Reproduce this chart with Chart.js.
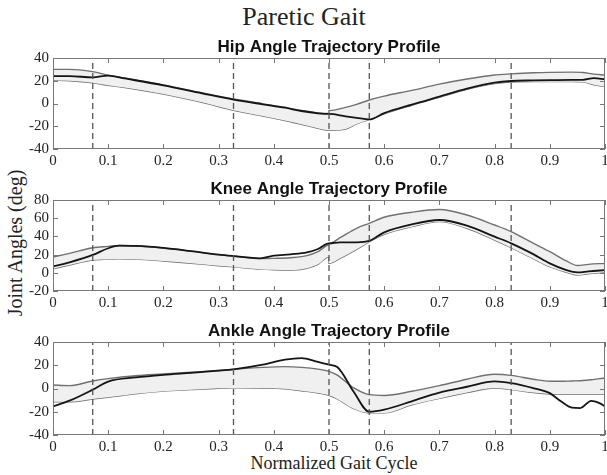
<!DOCTYPE html>
<html>
<head>
<meta charset="utf-8">
<script src="https://cdn.jsdelivr.net/npm/chart.js@4.4.0/dist/chart.umd.min.js"></script>
<style>
  body { margin: 0; background: #fff; }
  #wrap { position: relative; width: 607px; height: 475px; overflow: hidden; font-family: "Liberation Serif", serif; color: #222; }
  canvas { position: absolute; left: 0; }
  .lbl { position: absolute; white-space: nowrap; line-height: 1; }
</style>
</head>
<body>
<div id="wrap">
  <div class="lbl" style="left:304px; top:17px; transform:translate(-50%,-50%); font-size:26px;">Paretic Gait</div>
  <div class="lbl" style="left:15px; top:243px; transform:translate(-50%,-50%) rotate(-90deg); font-size:20px;">Joint Angles (deg)</div>
  <div class="lbl" style="left:334px; top:463px; transform:translate(-50%,-50%); font-size:18px;">Normalized Gait Cycle</div>
  <canvas id="hip" width="607" height="132" style="top:39px"></canvas>
  <canvas id="knee" width="607" height="132" style="top:181px"></canvas>
  <canvas id="ankle" width="607" height="134" style="top:323px"></canvas>
</div>
<script>
// eje x común
const xTicks = [0, 0.1, 0.2, 0.3, 0.4, 0.5, 0.6, 0.7, 0.8, 0.9, 1];
const xTickLabels = ['0', '0.1', '0.2', '0.3', '0.4', '0.5', '0.6', '0.7', '0.8', '0.9', '1'];
// eventos de la marcha (líneas discontinuas)
const gaitEvents = [0.072, 0.327, 0.5, 0.573, 0.83];

// Cadera
const hipX = [0, 0.03, 0.072, 0.1, 0.13, 0.2, 0.27, 0.327, 0.38, 0.42, 0.45, 0.48, 0.5, 0.5, 0.53, 0.55, 0.573, 0.6, 0.65, 0.7, 0.75, 0.8, 0.83, 0.87, 0.9, 0.94, 0.96, 0.98, 1];
const hipUpper = [30, 30, 28, 25, 22.4, 16.4, 9.4, 3.9, -0.3, -3.3, -6.2, -8.2, -8.8, -6.3, -3.4, -0.7, 3.1, 6.5, 11.5, 17, 21.5, 25, 26, 27, 27.4, 27.6, 27.3, 25.8, 25];
const hipLower = [20.5, 20, 18.2, 16, 14, 8.3, 1, -6, -11, -15, -18.3, -21.8, -23.6, -23.6, -22.4, -18, -14, -9, -1.5, 5.5, 12.5, 17.5, 18.8, 19.2, 19.2, 19.2, 19, 16.5, 14.8];
const hipSubject = [24, 24, 23, 24.5, 22, 16, 9, 3.5, -0.7, -3.7, -6.6, -8.6, -9.2, -9.2, -11.3, -12.6, -14, -8.5, -1, 6, 13, 18.3, 19.8, 20.3, 20.6, 20.8, 20.8, 22.3, 21.3];
const hipTicks = [-40, -20, 0, 20, 40];

// Rodilla
const kneeX = [0, 0.03, 0.072, 0.1, 0.12, 0.15, 0.2, 0.25, 0.3, 0.327, 0.375, 0.4, 0.43, 0.46, 0.48, 0.5, 0.5, 0.52, 0.55, 0.573, 0.6, 0.65, 0.7, 0.75, 0.8, 0.83, 0.87, 0.9, 0.93, 0.95, 0.97, 1];
const kneeUpper = [17.5, 21.4, 27.5, 29, 30, 29.5, 27.3, 23.8, 20, 18.4, 15.6, 15.9, 16.6, 18.8, 23.2, 30.5, 32, 38.6, 48.9, 54.4, 61, 66.5, 69.5, 63.5, 52.5, 45.2, 32.5, 23.2, 13, 8, 9.3, 10.4];
const kneeLower = [4.5, 8.6, 14, 15, 15.3, 15, 13, 10.5, 7.8, 6.5, 4, 3.3, 3, 5, 9.3, 17.7, 10.4, 15.9, 25.8, 34.2, 42.3, 50.7, 56.2, 48.9, 36, 27.6, 15.5, 6.7, 0.5, -2.4, -1, 0.5];
const kneeSubject = [7, 11.5, 19.6, 27, 29.8, 29.5, 27.3, 23.8, 20, 18.4, 15.9, 18.8, 20.3, 22.4, 26.2, 32.4, 32.4, 33.5, 33.5, 35, 44.5, 53.3, 58, 51.8, 39.7, 32.4, 20.5, 10.4, 3, 0.5, 1.5, 3];
const kneeTicks = [-20, 0, 20, 40, 60, 80];

// Tobillo
const ankleX = [0, 0.03, 0.072, 0.1, 0.15, 0.2, 0.25, 0.3, 0.327, 0.38, 0.42, 0.45, 0.48, 0.5, 0.515, 0.545, 0.573, 0.6, 0.65, 0.7, 0.75, 0.8, 0.83, 0.87, 0.9, 0.92, 0.94, 0.955, 0.975, 0.99, 1];
const ankleUpper = [3, 2.5, 6.5, 8.5, 11, 12.5, 14, 15.5, 16.5, 18.2, 18.8, 18.2, 16.7, 14.8, 11.5, 0.5, -5.3, -6, -2.4, 2.5, 8, 12.3, 11.3, 8, 6.2, 6.2, 6.5, 6.7, 7.5, 8.5, 9];
const ankleLower = [-11.5, -11.5, -9, -7.5, -4.6, -2.3, -1, 0.2, 0.5, 0.4, -0.2, -1.9, -3.9, -5.9, -9, -17.4, -21, -21, -14, -8.5, -3.5, 0.4, -1, -3.5, -4.8, -5, -5, -5, -5, -5, -5];
const ankleSubject = [-15.5, -10.5, -1, 6, 9.5, 11.8, 13.5, 15.3, 16.5, 20.5, 24.8, 26.2, 22.8, 20.5, 18.5, -3, -20, -18.2, -11, -3.5, 1.5, 6.2, 4.7, 0.4, -4, -11, -16.5, -16.8, -10.6, -12.6, -15.3];
const ankleTicks = [-40, -20, 0, 20, 40];

const serif = "'Liberation Serif', 'Times New Roman', serif";

// caja estilo MATLAB con marcas hacia dentro
const boxPlugin = {
    id: 'matlabBox',
    afterDatasetsDraw(chart) {
        const { ctx, chartArea: a, scales: { x, y } } = chart;
        ctx.save();
        ctx.strokeStyle = '#777';
        ctx.lineWidth = 1;
        ctx.strokeRect(Math.round(a.left) + 0.5, Math.round(a.top) + 0.5, Math.round(a.width) - 1, Math.round(a.height) - 1);
        ctx.beginPath();
        x.ticks.forEach(t => {
            const px = Math.round(x.getPixelForValue(t.value)) + 0.5;
            ctx.moveTo(px, a.bottom); ctx.lineTo(px, a.bottom - 5);
            ctx.moveTo(px, a.top); ctx.lineTo(px, a.top + 5);
        });
        y.ticks.forEach(t => {
            const py = Math.round(y.getPixelForValue(t.value)) + 0.5;
            ctx.moveTo(a.left, py); ctx.lineTo(a.left + 5, py);
            ctx.moveTo(a.right, py); ctx.lineTo(a.right - 5, py);
        });
        ctx.stroke();
        ctx.restore();
    }
};

function pts(xs, ys) {
    return xs.map((x, i) => ({ x: x, y: ys[i] }));
}

function makeChart(id, title, xs, upper, lower, subject, yTicks) {
    const yMin = yTicks[0], yMax = yTicks[yTicks.length - 1];
    const events = gaitEvents.map(e => ({
        data: [{ x: e, y: yMin }, { x: e, y: yMax }],
        borderColor: '#555',
        borderWidth: 1.3,
        borderDash: [6, 4],
        pointRadius: 0,
        tension: 0,
        order: 0
    }));
    return new Chart(document.getElementById(id), {
        type: 'line',
        data: {
            datasets: [
                { label: 'upper', data: pts(xs, upper), borderColor: '#707070', borderWidth: 1.4, backgroundColor: '#f0f0f0', fill: '+1', pointRadius: 0, cubicInterpolationMode: 'monotone', order: 2 },
                { label: 'lower', data: pts(xs, lower), borderColor: '#707070', borderWidth: 1.4, fill: false, pointRadius: 0, cubicInterpolationMode: 'monotone', order: 2 },
                { label: 'subject', data: pts(xs, subject), borderColor: '#151515', borderWidth: 1.8, fill: false, pointRadius: 0, cubicInterpolationMode: 'monotone', order: 1 }
            ].concat(events)
        },
        options: {
            responsive: false,
            animation: false,
            events: [],
            layout: { padding: { left: 0, right: 2, top: 0, bottom: 0 } },
            plugins: {
                legend: { display: false },
                tooltip: { enabled: false },
                title: {
                    display: true,
                    text: title,
                    fullSize: false,
                    color: '#111',
                    font: { family: "'Liberation Sans', Arial, sans-serif", size: 17, weight: 'bold', lineHeight: 1 },
                    padding: { top: 0, bottom: 2 }
                }
            },
            scales: {
                x: {
                    type: 'linear', min: 0, max: 1,
                    grid: { display: false, drawTicks: false },
                    border: { display: false },
                    afterBuildTicks: s => { s.ticks = xTicks.map(v => ({ value: v })); },
                    afterFit: s => { s.height = 22; s.paddingLeft = 0; s.paddingRight = 0; },
                    ticks: {
                        callback: (v, i) => xTickLabels[i],
                        autoSkip: false, maxRotation: 0, padding: 3,
                        color: '#222', font: { family: serif, size: 15 }
                    }
                },
                y: {
                    type: 'linear', min: yMin, max: yMax,
                    grid: { display: false, drawTicks: false },
                    border: { display: false },
                    afterBuildTicks: s => { s.ticks = yTicks.map(v => ({ value: v })); },
                    afterFit: s => { s.width = 53; s.paddingTop = 0; s.paddingBottom = 0; },
                    ticks: {
                        callback: v => String(v),
                        autoSkip: false,
                        padding: 4,
                        color: '#222', font: { family: serif, size: 15 }
                    }
                }
            }
        },
        plugins: [boxPlugin]
    });
}

makeChart('hip', 'Hip Angle Trajectory Profile', hipX, hipUpper, hipLower, hipSubject, hipTicks);
makeChart('knee', 'Knee Angle Trajectory Profile', kneeX, kneeUpper, kneeLower, kneeSubject, kneeTicks);
makeChart('ankle', 'Ankle Angle Trajectory Profile', ankleX, ankleUpper, ankleLower, ankleSubject, ankleTicks);
</script>
</body>
</html>
